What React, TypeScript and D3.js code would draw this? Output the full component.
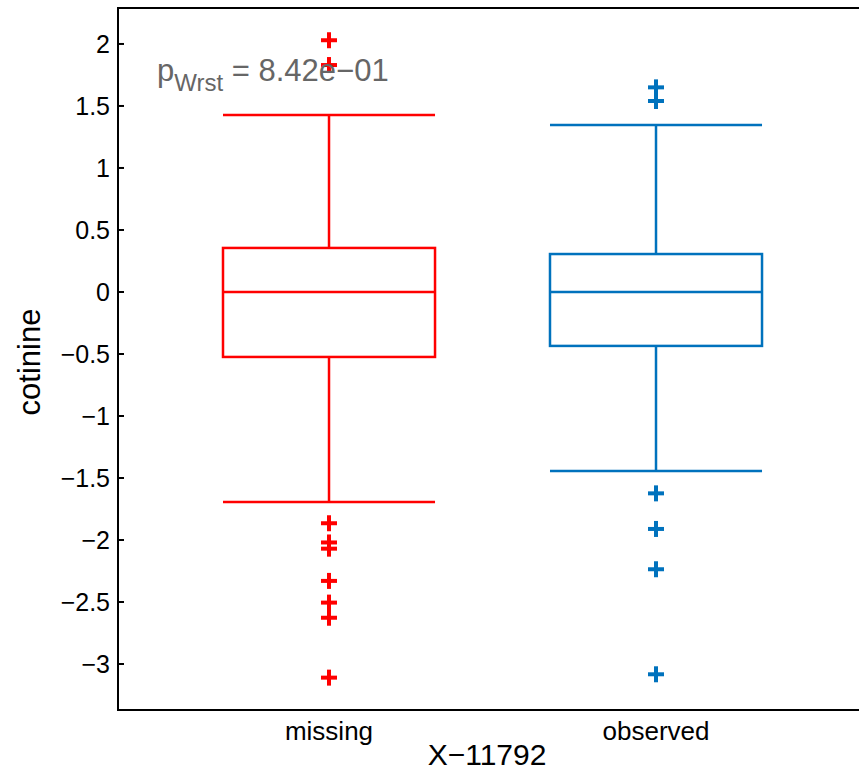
import React from "react";
import * as d3 from "d3";

const categories = ["missing", "observed"];
const colors = ["#ff0000", "#0072bd"];
// [lowerWhisker, q1, median, q3, upperWhisker]
const boxStats = [
  [-1.694, -0.524, 0.0, 0.355, 1.427],
  [-1.444, -0.435, 0.0, 0.306, 1.347],
];
const outliersMissing = [2.03, 1.83, -1.865, -2.02, -2.07, -2.33, -2.505, -2.627, -3.11];
const outliersObserved = [1.65, 1.54, -1.624, -1.911, -2.236, -3.083];
const outliers = [outliersMissing, outliersObserved];
const yTicks = [2, 1.5, 1, 0.5, 0, -0.5, -1, -1.5, -2, -2.5, -3];

const W = 859;
const H = 779;
const left = 118;
const top = 8;
const bottom = 710;
const right = 868;

export default function App() {
  const y = d3.scaleLinear().domain([-3.371, 2.29]).range([bottom, top]);
  const x = d3.scaleLinear().domain([0.3547, 2.6483]).range([left, right]);
  const halfBox = 0.3242;
  const fmt = (v: number) => {
    const s = String(Math.abs(v));
    return v < 0 ? "\u2212" + s : s;
  };
  const font = "Liberation Sans, Arial, Helvetica, sans-serif";
  return (
    <svg width={W} height={H} style={{ position: "absolute", left: 0, top: 0, background: "#fff" }}>
      <rect x={0} y={0} width={W} height={H} fill="#fff" />
      {categories.map((c, i) => {
        const [lw, q1, med, q3, uw] = boxStats[i];
        const cx = x(i + 1);
        const x0 = x(i + 1 - halfBox);
        const x1 = x(i + 1 + halfBox);
        const col = colors[i];
        return (
          <g key={c} stroke={col} strokeWidth={2.5} fill="none">
            <rect x={x0} y={y(q3)} width={x1 - x0} height={y(q1) - y(q3)} />
            <line x1={x0} x2={x1} y1={y(med)} y2={y(med)} />
            <line x1={cx} x2={cx} y1={y(q3)} y2={y(uw)} />
            <line x1={cx} x2={cx} y1={y(q1)} y2={y(lw)} />
            <line x1={x0} x2={x1} y1={y(uw)} y2={y(uw)} />
            <line x1={x0} x2={x1} y1={y(lw)} y2={y(lw)} />
            {outliers[i].map((v, j) => (
              <g key={j} strokeWidth={4}>
                <line x1={cx - 8} x2={cx + 8} y1={y(v)} y2={y(v)} />
                <line x1={cx} x2={cx} y1={y(v) - 8} y2={y(v) + 8} />
              </g>
            ))}
          </g>
        );
      })}
      <g stroke="#000" strokeWidth={2} fill="none">
        <line x1={left} x2={left} y1={top} y2={bottom} />
        <line x1={left - 1} x2={right} y1={top} y2={top} />
        <line x1={left - 1} x2={right} y1={bottom} y2={bottom} />
        {yTicks.map((t) => (
          <line key={t} x1={left} x2={left + 6} y1={y(t)} y2={y(t)} />
        ))}
      </g>
      {yTicks.map((t) => (
        <text key={t} x={110} y={y(t) + 9} textAnchor="end" fontFamily={font} fontSize={25} fill="#000">
          {fmt(t)}
        </text>
      ))}
      {categories.map((c, i) => (
        <text key={c} x={x(i + 1)} y={740} textAnchor="middle" fontFamily={font} fontSize={26} fill="#000">
          {c}
        </text>
      ))}
      <text x={487} y={765} textAnchor="middle" fontFamily={font} fontSize={30} fill="#000">
        X{"\u2212"}11792
      </text>
      <text
        transform={`translate(40, 362) rotate(-90)`}
        textAnchor="middle"
        fontFamily={font}
        fontSize={31}
        fill="#000"
      >
        cotinine
      </text>
      <text x={157} y={81} fontFamily={font} fontSize={31} fill="#666666">
        p
        <tspan fontSize={24} dy={10}>Wrst</tspan>
        <tspan dy={-10}> = 8.42e{"\u2212"}01</tspan>
      </text>
    </svg>
  );
}
